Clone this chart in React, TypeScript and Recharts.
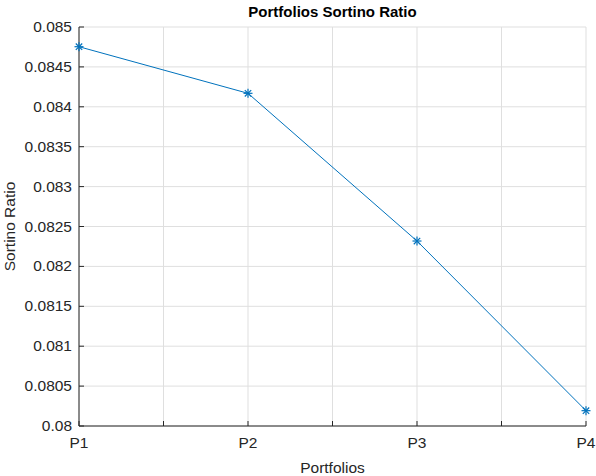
import React from 'react';
import { LineChart, Line, XAxis, YAxis, CartesianGrid } from 'recharts';

const portfolios = ['P1', 'P2', 'P3', 'P4'];
const sortino = [0.084753, 0.084169, 0.082318, 0.080192];
const xTicks = [1, 1.5, 2, 2.5, 3, 3.5, 4];
const yTicks = [0.08, 0.0805, 0.081, 0.0815, 0.082, 0.0825, 0.083, 0.0835, 0.084, 0.0845, 0.085];

const data = portfolios.map((name, i) => ({ idx: i + 1, name, value: sortino[i] }));

const AXIS = '#262626';
const FONT = 'Liberation Sans, Arial, sans-serif';

const fmtY = (v: number) => parseFloat(v.toFixed(4)).toString();
const fmtX = (v: number) => (Number.isInteger(v) ? portfolios[v - 1] : '');

const BottomTick = (props: any) => {
  const { x, y, payload } = props;
  return (
    <g>
      <line x1={x} x2={x} y1={y - 9} y2={y - 14} stroke={AXIS} strokeWidth={1} />
      <text x={x} y={y} dy={13} textAnchor="middle" fill={AXIS} fontSize={15.5} fontFamily={FONT}>
        {fmtX(payload.value)}
      </text>
    </g>
  );
};

const TopTick = (props: any) => {
  const { x, y } = props;
  return <line x1={x} x2={x} y1={y} y2={y + 5} stroke={AXIS} strokeWidth={1} />;
};

const LeftTick = (props: any) => {
  const { x, y, payload } = props;
  return (
    <g>
      <line x1={x + 7} x2={x + 12} y1={y} y2={y} stroke={AXIS} strokeWidth={1} />
      <text x={x} y={y} dy={5} textAnchor="end" fill={AXIS} fontSize={15.5} fontFamily={FONT}>
        {fmtY(payload.value)}
      </text>
    </g>
  );
};

const RightTick = (props: any) => {
  const { x, y } = props;
  return <line x1={x - 5} x2={x} y1={y} y2={y} stroke={AXIS} strokeWidth={1} />;
};

const Star = (props: any) => {
  const { cx, cy } = props;
  if (cx == null || cy == null) return null;
  const s = 4.5;
  const d = 3.2;
  return (
    <g stroke="#0072BD" strokeWidth={1.2}>
      <line x1={cx - s} x2={cx + s} y1={cy} y2={cy} />
      <line x1={cx} x2={cx} y1={cy - s} y2={cy + s} />
      <line x1={cx - d} x2={cx + d} y1={cy - d} y2={cy + d} />
      <line x1={cx - d} x2={cx + d} y1={cy + d} y2={cy - d} />
    </g>
  );
};

const YLabel = (props: any) => {
  const { viewBox } = props;
  const cy = viewBox.y + viewBox.height / 2;
  const x = 15;
  return (
    <text
      x={x}
      y={cy}
      transform={`rotate(-90, ${x}, ${cy})`}
      textAnchor="middle"
      fill={AXIS}
      fontSize={15.5}
      fontFamily={FONT}
    >
      Sortino Ratio
    </text>
  );
};

export default function App() {
  return (
    <div style={{ position: 'absolute', left: 0, top: 0, width: 596, height: 476, background: '#fff' }}>
      <div
        style={{
          position: 'absolute',
          top: 3,
          left: 79,
          width: 507,
          textAlign: 'center',
          fontFamily: FONT,
          fontWeight: 'bold',
          fontSize: 15,
          color: '#000',
        }}
      >
        Portfolios Sortino Ratio
      </div>
      <LineChart width={596} height={476} data={data} margin={{ top: 27, right: 10, bottom: 0, left: 0 }}>
        <CartesianGrid stroke="#dfdfdf" strokeWidth={1} />
        <XAxis
          dataKey="idx"
          type="number"
          domain={[1, 4]}
          ticks={xTicks}
          interval={0}
          height={50}
          tickSize={0}
          tickMargin={9}
          tickLine={false}
          axisLine={{ stroke: AXIS }}
          tick={<BottomTick />}
          label={{ value: 'Portfolios', position: 'insideBottom', offset: 3, fill: AXIS, fontSize: 15.5, fontFamily: FONT }}
        />
        <XAxis
          xAxisId="top"
          orientation="top"
          dataKey="idx"
          type="number"
          domain={[1, 4]}
          ticks={xTicks}
          interval={0}
          height={0}
          tickSize={0}
          tickMargin={0}
          tickLine={false}
          axisLine={{ stroke: AXIS }}
          tick={<TopTick />}
        />
        <YAxis
          type="number"
          domain={[0.08, 0.085]}
          ticks={yTicks}
          interval={0}
          width={79}
          tickSize={0}
          tickMargin={7}
          tickLine={false}
          axisLine={{ stroke: AXIS }}
          tick={<LeftTick />}
          label={<YLabel />}
        />
        <YAxis
          yAxisId="right"
          orientation="right"
          type="number"
          domain={[0.08, 0.085]}
          ticks={yTicks}
          interval={0}
          width={0}
          tickSize={0}
          tickMargin={0}
          tickLine={false}
          axisLine={{ stroke: AXIS }}
          tick={<RightTick />}
        />
        <Line
          type="linear"
          dataKey="value"
          stroke="#0072BD"
          strokeWidth={1}
          dot={<Star />}
          activeDot={false}
          isAnimationActive={false}
        />
      </LineChart>
    </div>
  );
}
